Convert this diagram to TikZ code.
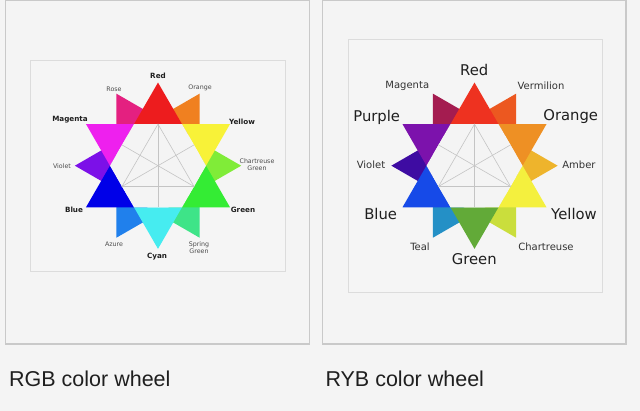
\documentclass[tikz,border=0pt]{standalone}
\usepackage{fontspec}
\setmainfont{DejaVu Sans}
\newfontfamily\capfont{Liberation Sans}
\newfontfamily\dvb{DejaVu Sans}
\definecolor{pagebg}{HTML}{F4F4F4}
\definecolor{framec}{HTML}{C9C9C9}
\definecolor{imgborder}{HTML}{DCDCDC}
\definecolor{imgbg}{HTML}{F5F5F5}
\definecolor{gridc}{HTML}{C4C4C4}
% RGB wheel
\definecolor{aRed}{RGB}{237,28,30}
\definecolor{aOrange}{RGB}{240,128,32}
\definecolor{aYellow}{RGB}{248,242,56}
\definecolor{aChart}{RGB}{128,236,56}
\definecolor{aGreen}{RGB}{52,236,52}
\definecolor{aSpring}{RGB}{62,228,136}
\definecolor{aCyan}{RGB}{70,236,240}
\definecolor{aAzure}{RGB}{32,128,236}
\definecolor{aBlue}{RGB}{0,0,232}
\definecolor{aViolet}{RGB}{124,16,232}
\definecolor{aMagenta}{RGB}{238,32,238}
\definecolor{aRose}{RGB}{228,32,128}
% RYB wheel
\definecolor{bRed}{RGB}{238,50,32}
\definecolor{bVerm}{RGB}{236,88,32}
\definecolor{bOrange}{RGB}{238,144,36}
\definecolor{bAmber}{RGB}{238,180,44}
\definecolor{bYellow}{RGB}{244,240,62}
\definecolor{bChart}{RGB}{202,222,60}
\definecolor{bGreen}{RGB}{98,170,56}
\definecolor{bTeal}{RGB}{36,144,198}
\definecolor{bBlue}{RGB}{22,74,232}
\definecolor{bViolet}{RGB}{62,12,162}
\definecolor{bPurple}{RGB}{124,18,172}
\definecolor{bMagenta}{RGB}{164,28,80}
\tikzset{
  panelframe/.style={draw=framec, line width=1.2pt},
  imgframe/.style={draw=imgborder, fill=imgbg, line width=0.8pt},
  gridline/.style={draw=gridc, line width=0.6pt},
  hexfill/.style={fill=pagebg},
  lblA/.style={font=\dvb\bfseries\fontsize{7.2}{8}\selectfont, text=black!88, inner sep=0pt},
  lblAs/.style={font=\fontsize{6.3}{7.3}\selectfont, text=black!70, inner sep=0pt, align=center},
  lblB/.style={font=\fontsize{14.8}{16}\selectfont, text=black!88, inner sep=0pt},
  lblBs/.style={font=\fontsize{10}{11}\selectfont, text=black!80, inner sep=0pt},
  caption/.style={font=\capfont\fontsize{21.5}{24}\selectfont, text=black!88, inner sep=0pt, anchor=base west},
}
\newcommand\drawwheel[3]{% #1 tertiary list, #2 main list
  \foreach \t/\c in {#1} \fill[\c] (\t:83.14pt) -- (\t+30:48pt) -- (\t-30:48pt) -- cycle;
  \foreach \t/\c in {#2} \fill[\c] (\t:83.14pt) -- (\t+30:48pt) -- (\t-30:48pt) -- cycle;
  \fill[hexfill] (0:48pt) -- (60:48pt) -- (120:48pt) -- (180:48pt) -- (240:48pt) -- (300:48pt) -- cycle;
  \draw[gridline] (90:41.57pt) -- (210:41.57pt) -- (330:41.57pt) -- cycle;
  \draw[gridline] (90:41.57pt) -- (270:41.57pt);
  \draw[gridline] (30:41.57pt) -- (210:41.57pt);
  \draw[gridline] (150:41.57pt) -- (330:41.57pt);
}
\begin{document}
\begin{tikzpicture}[x=1pt,y=-1pt]
\useasboundingbox (0,0) rectangle (640,411);
\fill[pagebg] (0,0) rectangle (640,411);
% panel frames
\draw[panelframe] (5.5,0.8) rectangle (309.5,344);
\draw[panelframe] (322.5,0.8) rectangle (626,344);
% inner images
\draw[imgframe] (30.5,60) rectangle (285,271);
\draw[imgframe] (348,39.5) rectangle (602,292.5);
% RGB wheel
\begin{scope}[shift={(158,165.7)}, y=1pt]
\drawwheel{60/aOrange,0/aChart,-60/aSpring,-120/aAzure,180/aViolet,120/aRose}{90/aRed,30/aYellow,-30/aGreen,-90/aCyan,-150/aBlue,150/aMagenta}{}
\end{scope}
% RYB wheel
\begin{scope}[shift={(474.5,165.7)}, y=1pt]
\drawwheel{60/bVerm,0/bAmber,-60/bChart,-120/bTeal,180/bViolet,120/bMagenta}{90/bRed,30/bOrange,-30/bYellow,-90/bGreen,-150/bBlue,150/bPurple}{}
\end{scope}
% RGB labels
\node[lblA] (aR) at (158,75.5) {Red};
\node[lblAs] (aRo) at (114,89) {Rose};
\node[lblAs] (aO) at (200,87.5) {Orange};
\node[lblA] (aM) at (70,120) {Magenta};
\node[lblA] (aY) at (242,121.5) {Yellow};
\node[lblAs] (aV) at (62,166) {Violet};
\node[lblAs] (aC) at (257,164.5) {Chartreuse\\Green};
\node[lblA] (aB) at (74,210) {Blue};
\node[lblA] (aG) at (243,210) {Green};
\node[lblAs] (aA) at (114,244) {Azure};
\node[lblAs] (aS) at (199,248) {Spring\\Green};
\node[lblA] (aCy) at (157,257) {Cyan};
% RYB labels
\node[lblB] (bR) at (474.3,69.5) {Red};
\node[lblBs] (bM) at (407.3,86) {Magenta};
\node[lblBs] (bVe) at (541,86) {Vermilion};
\node[lblB] (bP) at (376.7,117) {Purple};
\node[lblB] (bO) at (570.7,117) {Orange};
\node[lblBs] (bV) at (371,165) {Violet};
\node[lblBs] (bA) at (579,165) {Amber};
\node[lblB] (bB) at (380.7,213.5) {Blue};
\node[lblB] (bY) at (574,213.5) {Yellow};
\node[lblBs] (bT) at (420,246.7) {Teal};
\node[lblBs] (bC) at (546,246.7) {Chartreuse};
\node[lblB] (bG) at (474.3,259.5) {Green};
% captions
\node[caption] (capA) at (9,386.7) {RGB color wheel};
\node[caption] (capB) at (325.3,386.7) {RYB color wheel};
\end{tikzpicture}
\end{document}
